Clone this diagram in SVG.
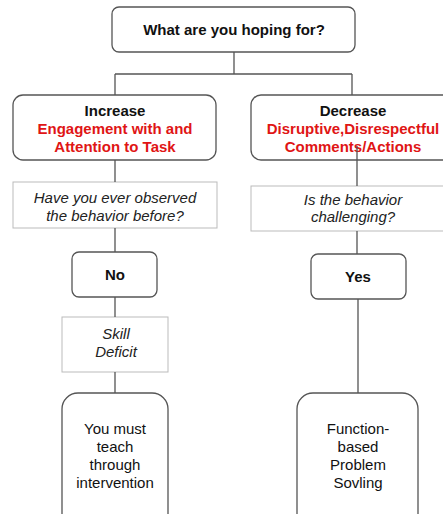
<svg xmlns="http://www.w3.org/2000/svg" width="443" height="514" viewBox="0 0 443 514">
  <style>
    .box { fill: #ffffff; stroke: #555555; stroke-width: 1.3; }
    .qbox { fill: #ffffff; stroke: #bbbbbb; stroke-width: 1; }
    .link { fill: none; stroke: #555555; stroke-width: 1.3; }
    text { font-family: "Liberation Sans", Arial, sans-serif; font-size: 15px; fill: #111111; text-anchor: middle; }
    .b { font-weight: bold; }
    .red { fill: #e01515; font-weight: bold; }
    .it { font-style: italic; fill: #222222; }
  </style>
  <rect width="443" height="514" fill="#ffffff"/>

  <g id="root">
    <rect class="box" x="112" y="7" width="243" height="45" rx="7"/>
    <text class="b" x="234" y="35">What are you hoping for?</text>
  </g>

  <g id="increase">
    <rect class="box" x="13" y="95" width="203" height="65" rx="10"/>
    <text class="b" x="115" y="116">Increase</text>
    <text class="red" x="115" y="134">Engagement with and</text>
    <text class="red" x="115" y="152">Attention to Task</text>
  </g>

  <g id="decrease">
    <rect class="box" x="251" y="95" width="204" height="65" rx="10"/>
    <text class="b" x="353" y="116">Decrease</text>
    <text class="red" x="353" y="134">Disruptive,Disrespectful</text>
    <text class="red" x="353" y="152">Comments/Actions</text>
  </g>

  <g id="observed">
    <rect class="qbox" x="13" y="182" width="204" height="46"/>
    <text class="it" x="115" y="203">Have you ever observed</text>
    <text class="it" x="115" y="221">the behavior before?</text>
  </g>

  <g id="challenging">
    <rect class="qbox" x="251" y="186" width="204" height="45"/>
    <text class="it" x="353" y="205">Is the behavior</text>
    <text class="it" x="353" y="222">challenging?</text>
  </g>

  <g id="no">
    <rect class="box" x="72" y="252" width="85" height="45" rx="7"/>
    <text class="b" x="115" y="280">No</text>
  </g>

  <g id="yes">
    <rect class="box" x="311" y="254" width="95" height="45" rx="7"/>
    <text class="b" x="358" y="282">Yes</text>
  </g>

  <g id="skill-deficit">
    <rect class="qbox" x="62" y="317" width="106" height="55"/>
    <text class="it" x="116" y="339">Skill</text>
    <text class="it" x="116" y="357">Deficit</text>
  </g>

  <g id="teach">
    <rect class="box" x="62" y="393" width="106" height="140" rx="16"/>
    <text x="115" y="434">You must</text>
    <text x="115" y="452">teach</text>
    <text x="115" y="470">through</text>
    <text x="115" y="488">intervention</text>
  </g>

  <g id="function-based">
    <rect class="box" x="297" y="393" width="121" height="140" rx="16"/>
    <text x="358" y="434">Function-</text>
    <text x="358" y="452">based</text>
    <text x="358" y="470">Problem</text>
    <text x="358" y="488">Sovling</text>
  </g>

  <g id="connectors">
    <path class="link" d="M234 52 V74 M115 74 H352 M115 74 V95 M352 74 V95"/>
    <path class="link" d="M115 160 V182 M115 228 V252 M115 297 V317 M115 372 V393"/>
    <path class="link" d="M357 146 V186 M357 231 V254 M358 299 V393"/>
  </g>
</svg>
